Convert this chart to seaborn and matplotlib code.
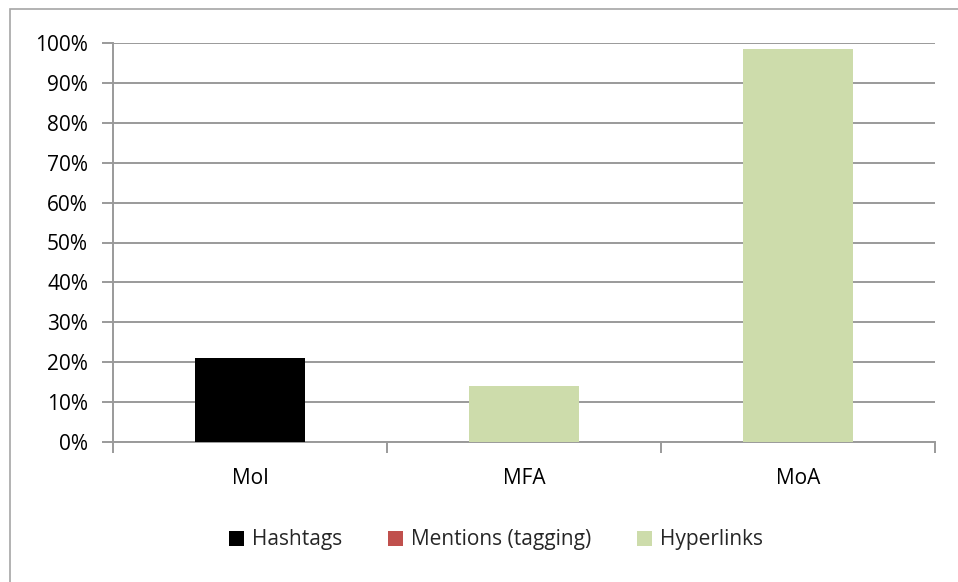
import matplotlib
matplotlib.use("Agg")
import matplotlib.pyplot as plt
from matplotlib.patches import Rectangle
from matplotlib.ticker import FuncFormatter, MultipleLocator, FixedLocator
import seaborn as sns
import pandas as pd

categories = ["MoI", "MFA", "MoA"]
series_names = ["Hashtags", "Mentions (tagging)", "Hyperlinks"]
hashtags = [21.0, 0.0, 0.0]
mentions = [0.0, 0.0, 0.0]
hyperlinks = [0.0, 14.1, 98.5]
colors = ["#000000", "#c0504d", "#cddcab"]

sns.set_theme(style="white")
plt.rcParams["font.family"] = ["Open Sans", "DejaVu Sans"]

fig = plt.figure(figsize=(9.58, 5.82), dpi=100)
ax = fig.add_axes([113 / 958, 1 - 442 / 582, (935 - 113) / 958, (442 - 43) / 582])

# outer chart frame
fig.patches.append(Rectangle((10 / 958, -0.1), 1.2, 1 - 9 / 582 + 0.1,
                             transform=fig.transFigure, fill=False,
                             edgecolor="#a6a6a6", linewidth=1.2, zorder=0))

# stacked series, one layer per series
bottom = [0.0, 0.0, 0.0]
for name, vals, col in zip(series_names, [hashtags, mentions, hyperlinks], colors):
    df = pd.DataFrame({"category": categories, "value": vals})
    sns.barplot(data=df, x="category", y="value", color=col, width=0.405,
                bottom=bottom, ax=ax, saturation=1, zorder=3, edgecolor="none")
    bottom = [b + v for b, v in zip(bottom, vals)]

if ax.get_legend() is not None:
    ax.get_legend().remove()

ax.set_xlim(-0.5, 2.5)
ax.set_ylim(0, 100)
ax.yaxis.set_major_locator(MultipleLocator(10))
ax.yaxis.set_major_formatter(FuncFormatter(lambda v, _: f"{int(round(v))}%"))
ax.grid(axis="y", color="#9a9a9a", linewidth=1.4, zorder=0)
ax.set_axisbelow(True)

for s in ["top", "right"]:
    ax.spines[s].set_visible(False)
for s in ["left", "bottom"]:
    ax.spines[s].set_color("#9a9a9a")
    ax.spines[s].set_linewidth(1.4)

ax.set_xlabel("")
ax.set_ylabel("")
ax.tick_params(axis="y", which="major", left=True, length=8, width=1.4,
               color="#9a9a9a", labelsize=15, pad=10, labelcolor="#000000")
ax.set_xticks(range(len(categories)))
ax.set_xticklabels(categories)
ax.tick_params(axis="x", which="major", bottom=False, labelsize=15, pad=13,
               labelcolor="#000000")
ax.xaxis.set_minor_locator(FixedLocator([-0.5, 0.5, 1.5, 2.5]))
ax.tick_params(axis="x", which="minor", bottom=True, length=8, width=1.4,
               color="#9a9a9a")

handles = [Rectangle((0, 0), 1, 1, facecolor=c, edgecolor="none") for c in colors]
fig.legend(handles, series_names, loc="center", bbox_to_anchor=(496 / 958, 1 - 540 / 582),
           ncol=3, frameon=False, fontsize=15, handlelength=0.7, handleheight=0.7,
           handletextpad=0.4, columnspacing=2.2)

fig.savefig("out.png", dpi=100, facecolor="white")
